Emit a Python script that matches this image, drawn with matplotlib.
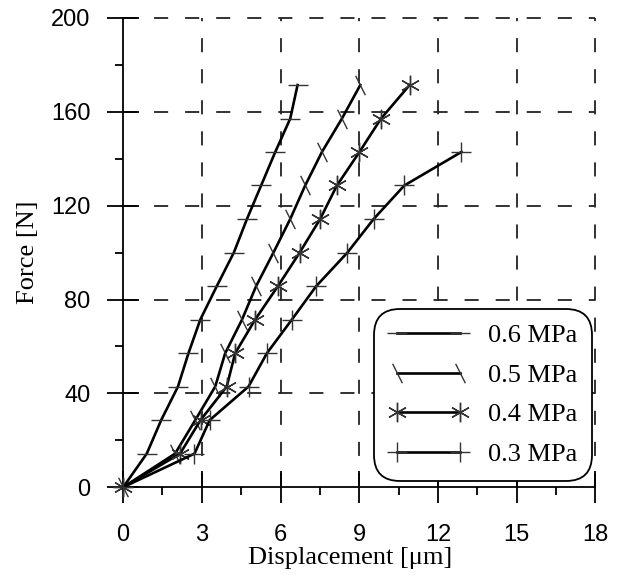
import matplotlib.pyplot as plt
from matplotlib.ticker import MultipleLocator

force_a = [0, 14.3, 28.6, 42.9, 57.1, 71.4, 85.7, 100, 114.3, 128.6, 142.9, 157.1, 171.4]
force_b = [0, 14.3, 28.6, 42.9, 57.1, 71.4, 85.7, 100, 114.3, 128.6, 142.9]

disp_06 = [0, 0.9, 1.45, 2.09, 2.49, 2.94, 3.57, 4.22, 4.72, 5.26, 5.8, 6.37, 6.65]
disp_05 = [0, 1.98, 2.75, 3.51, 3.89, 4.53, 5.07, 5.73, 6.37, 6.94, 7.58, 8.34, 9.04]
disp_04 = [0, 2.17, 2.95, 3.95, 4.27, 5.03, 5.9, 6.73, 7.51, 8.15, 9.01, 9.83, 10.92]
disp_03 = [0, 2.72, 3.3, 4.78, 5.48, 6.43, 7.36, 8.55, 9.55, 10.72, 12.9]

labels = ["0.6 MPa", "0.5 MPa", "0.4 MPa", "0.3 MPa"]

serif = "Liberation Serif"
sans = "Liberation Sans"

fig = plt.figure(figsize=(6.22, 5.80), dpi=100)
ax = fig.add_axes([0.198, 0.160, 0.759, 0.809])

slash = [(-0.5, 1), (0.5, -1)]
series = [
    (disp_06, force_a, "_"),
    (disp_05, force_a, slash),
    (disp_04, force_a, (6, 2, 0)),
    (disp_03, force_b, "+"),
]
for (x, y, m), lab in zip(series, labels):
    ax.plot(x, y, color="black", lw=1.9, marker=m, markersize=14,
            markeredgewidth=1.0, markeredgecolor="#333333", label=lab,
            clip_on=False, zorder=3)

ax.set_xlim(0, 18)
ax.set_ylim(0, 200)
ax.xaxis.set_major_locator(MultipleLocator(3))
ax.xaxis.set_minor_locator(MultipleLocator(1.5))
ax.yaxis.set_major_locator(MultipleLocator(40))
ax.yaxis.set_minor_locator(MultipleLocator(20))

# dashed grid, no top/right frame
ax.spines["top"].set_visible(False)
ax.spines["right"].set_visible(False)
for s in ["left", "bottom"]:
    ax.spines[s].set_linewidth(1.3)
for v in [3, 6, 9, 12, 15, 18]:
    ax.axvline(v, color="#222222", lw=1.3, dashes=(7.8, 9.4), zorder=1, clip_on=False)
for v in [40, 80, 120, 160, 200]:
    ax.axhline(v, color="#222222", lw=1.3, dashes=(7.8, 9.4), zorder=1, clip_on=False)

ax.tick_params(which="major", direction="inout", length=23, width=1.3, labelsize=17)
ax.tick_params(axis="x", which="major", pad=15)
ax.tick_params(axis="y", which="major", pad=12)
ax.tick_params(which="minor", direction="out", length=6, width=1.3)
for t in ax.get_xticklabels() + ax.get_yticklabels():
    t.set_fontfamily(sans)

ax.set_xlabel("Displacement [μm]", fontfamily=serif, fontsize=19, labelpad=1)
ax.xaxis.label.set_x(0.48)
ax.set_ylabel("Force [N]", fontfamily=serif, fontsize=19, labelpad=9)

leg = ax.legend(loc="lower right", bbox_to_anchor=(0.994, 0.013), borderaxespad=0,
                numpoints=2, handlelength=3.0, fancybox=True, framealpha=1,
                prop={"family": serif, "size": 19}, labelspacing=0.61,
                borderpad=0.57, handletextpad=0.76)
leg.get_frame().set_edgecolor("black")
leg.get_frame().set_linewidth(1.3)
leg.get_frame().set_boxstyle("round", pad=0, rounding_size=1.0)

fig.savefig("out.png", dpi=100)
